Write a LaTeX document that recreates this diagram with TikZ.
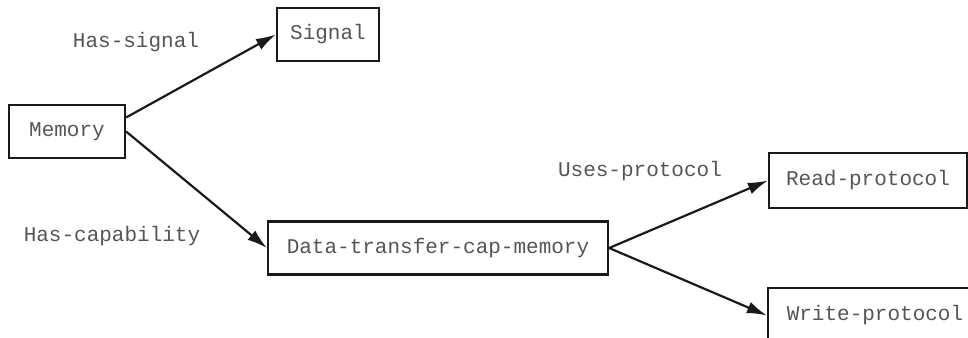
\documentclass[tikz,border=0pt]{standalone}
\usepackage{fontspec}
\setmonofont{Liberation Mono}
\usepackage{xcolor}
\usetikzlibrary{arrows.meta}
\definecolor{ink}{HTML}{1A1A1A}
\definecolor{txt}{HTML}{555555}
\tikzset{
  box/.style={draw=ink, line width=1.1pt, inner sep=0pt, text=txt,
    font=\fontsize{10.5}{12}\ttfamily, minimum height=26.5pt},
  arrline/.style={draw=ink, line width=1.1pt, -{Latex[length=10pt,width=6pt]}},
  lbl/.style={text=txt, font=\fontsize{10.5}{12}\ttfamily}
}
\begin{document}
\begin{tikzpicture}[x=0.5pt, y=-0.5pt]
  \useasboundingbox (0,0) rectangle (968,337);

  \node[box, minimum width=58pt] (mem) at (67,131.5) {Memory};
  \node[box, minimum width=51pt] (sig) at (328,34.5) {Signal};
  \node[box, minimum width=170pt] (data) at (438,248) {Data-transfer-cap-memory};
  \node[box, minimum width=99pt, minimum height=27.5pt] (read) at (868,180.5) {Read-protocol};
  \node[box, minimum width=107pt, minimum height=27.5pt] (write) at (875,315.5) {Write-protocol};

  \draw[arrline] ([yshift=7pt]mem.east) -- (sig.west);
  \draw[arrline] (mem.east) -- (data.west);
  \draw[arrline] (data.east) -- (read.west);
  \draw[arrline] (data.east) -- (write.west);

  \node[lbl] (hs) at (136,42) {Has-signal};
  \node[lbl] (hc) at (112,236) {Has-capability};
  \node[lbl] (up) at (640,171) {Uses-protocol};
\end{tikzpicture}
\end{document}
